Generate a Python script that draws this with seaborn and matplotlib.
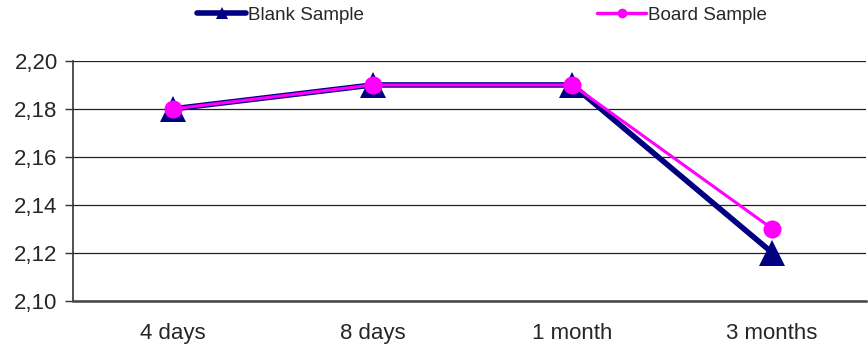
import matplotlib
matplotlib.use("Agg")
import matplotlib.pyplot as plt
import seaborn as sns
import pandas as pd
from matplotlib.ticker import FuncFormatter, FixedLocator
from matplotlib.lines import Line2D

categories = ["4 days", "8 days", "1 month", "3 months"]
blank_sample = [2.18, 2.19, 2.19, 2.12]
board_sample = [2.18, 2.19, 2.19, 2.13]
y_ticks = [2.10, 2.12, 2.14, 2.16, 2.18, 2.20]

sns.set_style("white")
plt.rcParams["font.family"] = ["Liberation Sans", "DejaVu Sans"]

fig = plt.figure(figsize=(8.68, 3.51), dpi=100)
ax = fig.add_axes([73 / 868, 1 - 300.5 / 351, (866 - 73) / 868, (300.5 - 61) / 351])

df_blank = pd.DataFrame({"x": range(len(categories)), "y": blank_sample})
df_board = pd.DataFrame({"x": range(len(categories)), "y": board_sample})

sns.lineplot(data=df_blank, x="x", y="y", ax=ax, color="#000080", linewidth=4,
             marker="^", markersize=19, markeredgewidth=0, zorder=3)
sns.lineplot(data=df_board, x="x", y="y", ax=ax, color="#FF00FF", linewidth=2.2,
             marker="o", markersize=13, markeredgewidth=0, zorder=4)

ax.set_xlim(-0.5, 3.47)
ax.set_ylim(2.10, 2.20)
ax.set_yticks(y_ticks)
ax.yaxis.set_major_formatter(FuncFormatter(lambda v, p: f"{v:.2f}".replace(".", ",")))
ax.set_xticks(range(len(categories)))
ax.set_xticklabels(categories)
ax.xaxis.set_minor_locator(FixedLocator([0.5, 1.5, 2.5]))
ax.tick_params(axis="x", which="major", length=0, pad=16, labelsize=16)
ax.tick_params(axis="x", which="minor", length=6, width=1, color="#333333", direction="out")
ax.tick_params(axis="y", which="major", length=6, width=1, color="#333333", direction="out",
               left=True, pad=5, labelsize=16)
ax.set_xlabel("")
ax.set_ylabel("")
ax.grid(axis="y", color="#222222", linewidth=0.9)
ax.set_axisbelow(True)
for s in ["top", "right"]:
    ax.spines[s].set_visible(False)
ax.spines["left"].set_color("#333333")
ax.spines["left"].set_linewidth(1.2)
ax.spines["bottom"].set_color("#444444")
ax.spines["bottom"].set_linewidth(1.8)

h1 = Line2D([], [], color="#000080", linewidth=4, marker="^", markersize=8, markeredgewidth=0)
h2 = Line2D([], [], color="#FF00FF", linewidth=2.5, marker="o", markersize=7, markeredgewidth=0)
leg1 = fig.legend([h1], ["Blank Sample"], loc="center left", bbox_to_anchor=(188 / 868, 1 - 15 / 351),
                  frameon=False, fontsize=13.5, handlelength=2.6, handletextpad=0.1, borderpad=0)
leg2 = fig.legend([h2], ["Board Sample"], loc="center left", bbox_to_anchor=(588 / 868, 1 - 15 / 351),
                  frameon=False, fontsize=13.5, handlelength=2.6, handletextpad=0.1, borderpad=0)

fig.savefig("out.png", dpi=100)
